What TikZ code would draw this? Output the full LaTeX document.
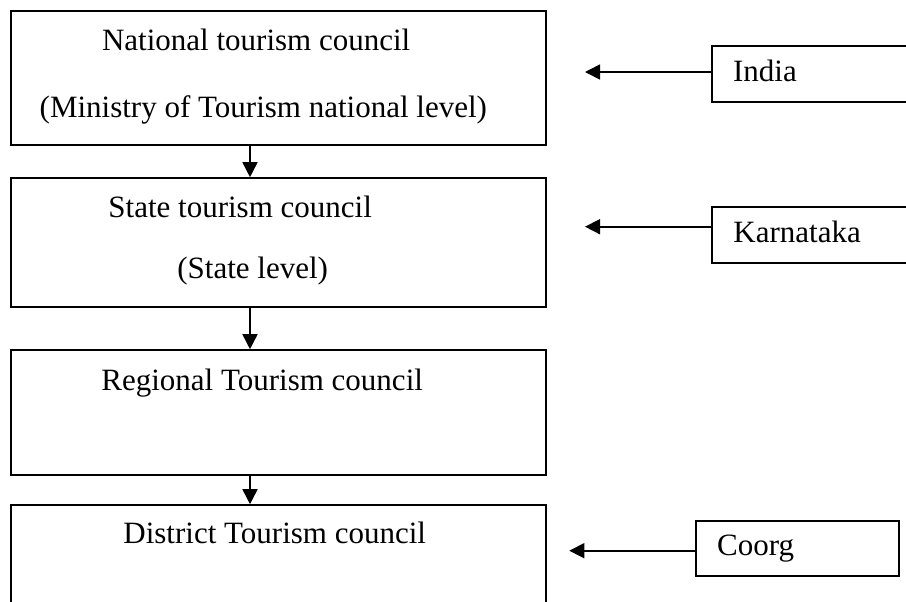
\documentclass[tikz,border=0pt]{standalone}
\usepackage{fontspec}
\setmainfont{Liberation Serif}
\usetikzlibrary{arrows.meta}

\begin{document}
\begin{tikzpicture}[x=0.5pt,y=-0.5pt,
  council/.style={draw,line width=0.8pt,minimum width=267.5pt,inner sep=0pt},
  place/.style={draw,line width=0.8pt,minimum height=28pt,inner sep=0pt},
  caption/.style={anchor=base west,inner sep=0pt,font=\fontsize{15.5}{18}\selectfont},
  flow/.style={line width=0.8pt,-{Triangle[length=7.5pt,width=7.5pt]}}]
  \useasboundingbox (0,0) rectangle (906,601);
  \clip (0,0) rectangle (906,601);
  % levels
  \node[council,minimum height=67pt]   (nat)   at (278.5,78)    {};
  \node[council,minimum height=64.5pt] (state) at (278.5,242.5) {};
  \node[council,minimum height=62.5pt] (reg)   at (278.5,412.5) {};
  \node[council,minimum height=67.5pt] (dist)  at (278.5,572.5) {};
  \node[caption] (natA)   at (101.7,50)  {National tourism council};
  \node[caption] (natB)   at (39.3,117)  {(Ministry of Tourism national level)};
  \node[caption] (stateA) at (108,217)   {State tourism council};
  \node[caption] (stateB) at (177,278)   {(State level)};
  \node[caption] (regA)   at (101,390)   {Regional Tourism council};
  \node[caption] (distA)  at (123,543)   {District Tourism council};
  \coordinate (spine) at (250,0);
  \draw[flow] (nat.south -| spine)   -- (state.north -| spine);
  \draw[flow] (state.south -| spine) -- (reg.north -| spine);
  \draw[flow] (reg.south -| spine)   -- (dist.north -| spine);
  % places
  \node[place,minimum width=109pt] (india) at (821,74)      {};
  \node[place,minimum width=109pt] (karn)  at (821,234.7)   {};
  \node[place,minimum width=101.5pt,minimum height=27.7pt] (coorg) at (797.5,548.4) {};
  \node[caption] (indiaT) at (732.7,81.7) {India};
  \node[caption] (karnT)  at (733,242.7)  {Karnataka};
  \node[caption] (coorgT) at (716.7,555)  {Coorg};
  \coordinate (tipI) at (585,72);
  \coordinate (tipK) at (585,226.7);
  \coordinate (tipC) at (569.3,550.7);
  \draw[flow] (india.west |- tipI) -- (tipI);
  \draw[flow] (karn.west |- tipK)  -- (tipK);
  \draw[flow] (coorg.west |- tipC) -- (tipC);
\end{tikzpicture}
\end{document}
